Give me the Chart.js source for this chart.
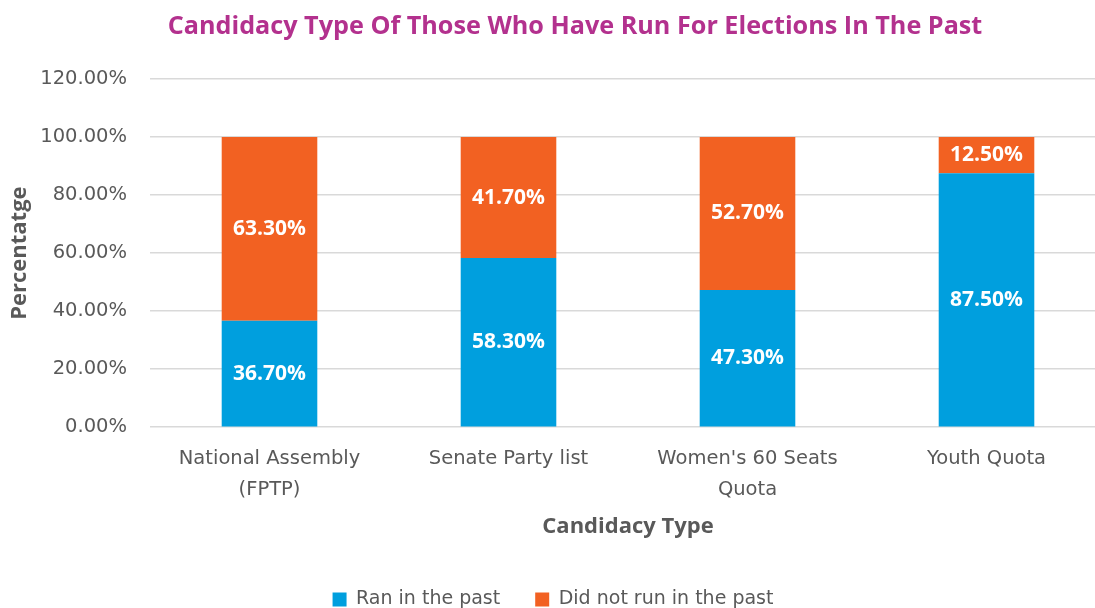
<!DOCTYPE html>
<html>
<head>
<meta charset="utf-8">
<script src="https://cdn.jsdelivr.net/npm/chart.js@4"></script>
<style>
  html, body { margin: 0; padding: 0; background: #fff; overflow: hidden; }
  #wrap { width: 1106px; height: 608px; }
</style>
</head>
<body>
<div id="wrap"><canvas id="myChart"></canvas></div>
<script>
const categories = [['National Assembly', '(FPTP)'], 'Senate Party list', ["Women's 60 Seats", 'Quota'], 'Youth Quota'];
const ranInPast = [36.7, 58.3, 47.3, 87.5];
const didNotRun = [63.3, 41.7, 52.7, 12.5];
const yTicks = [0, 20, 40, 60, 80, 100, 120];

const TITLE = 'Candidacy Type Of Those Who Have Run For Elections In The Past';
const HEAD = "'Open Sans', sans-serif";
const BODY = "'DejaVu Sans', sans-serif";
const GREY = '#595959';

// chart title, drawn a little right of centre like the original sheet
const titlePlugin = {
    id: 'titlePlugin',
    afterDraw(chart) {
        const ctx = chart.ctx;
        ctx.save();
        ctx.fillStyle = '#B3318E';
        ctx.font = 'bold 25.2px ' + HEAD;
        ctx.textAlign = 'center';
        ctx.textBaseline = 'middle';
        ctx.fillText(TITLE, 575, 27);
        ctx.restore();
    }
};

// white percentage labels in the middle of each segment
const segmentLabels = {
    id: 'segmentLabels',
    afterDatasetsDraw(chart) {
        const ctx = chart.ctx;
        ctx.save();
        ctx.fillStyle = '#ffffff';
        ctx.font = 'bold 21px ' + HEAD;
        ctx.textAlign = 'center';
        ctx.textBaseline = 'middle';
        chart.data.datasets.forEach((ds, i) => {
            chart.getDatasetMeta(i).data.forEach((bar, j) => {
                const mid = (bar.y + bar.base) / 2;
                ctx.fillText(ds.data[j].toFixed(2) + '%', bar.x, mid);
            });
        });
        ctx.restore();
    }
};

const config = {
    type: 'bar',
    data: {
        labels: categories,
        datasets: [{
            label: 'Ran in the past',
            backgroundColor: '#009FDE',
            data: ranInPast,
        }, {
            label: 'Did not run in the past',
            backgroundColor: '#F26122',
            data: didNotRun,
        }],
    },
    options: {
        responsive: true,
        maintainAspectRatio: false,
        animation: false,
        layout: { padding: { left: 0, right: 0, top: 79, bottom: -11 } },
        datasets: {
            bar: { barPercentage: 0.8, categoryPercentage: 0.5 }
        },
        plugins: {
            title: { display: false },
            legend: {
                position: 'bottom',
                labels: {
                    color: GREY,
                    font: { family: BODY, size: 19 },
                    boxWidth: 14,
                    boxHeight: 14,
                    padding: 35
                }
            },
            tooltip: { enabled: false }
        },
        scales: {
            x: {
                stacked: true,
                grid: { display: false },
                border: { display: false },
                ticks: { color: GREY, font: { family: BODY, size: 19.5, lineHeight: 1.6 }, padding: 8 },
                title: {
                    display: true,
                    text: 'Candidacy Type',
                    color: GREY,
                    font: { family: HEAD, size: 22, weight: 'bold' },
                    padding: { top: 0, bottom: 15 }
                }
            },
            y: {
                stacked: true,
                min: yTicks[0],
                max: yTicks[yTicks.length - 1],
                afterBuildTicks: axis => { axis.ticks = yTicks.map(v => ({ value: v })); },
                afterFit: axis => { axis.width = 150; },
                grid: { color: '#d9d9d9', lineWidth: 1.5, drawTicks: false },
                border: { display: false },
                ticks: {
                    color: GREY,
                    font: { family: BODY, size: 19.5 },
                    padding: 23,
                    callback: v => v.toFixed(2) + '%'
                },
                title: {
                    display: true,
                    text: 'Percentatge',
                    color: GREY,
                    font: { family: HEAD, size: 22, weight: 'bold' },
                    padding: { top: 7, bottom: 0 }
                }
            }
        }
    },
    plugins: [segmentLabels, titlePlugin]
};

const ctx = document.getElementById('myChart').getContext('2d');
const myChart = new Chart(ctx, config);
</script>
</body>
</html>
